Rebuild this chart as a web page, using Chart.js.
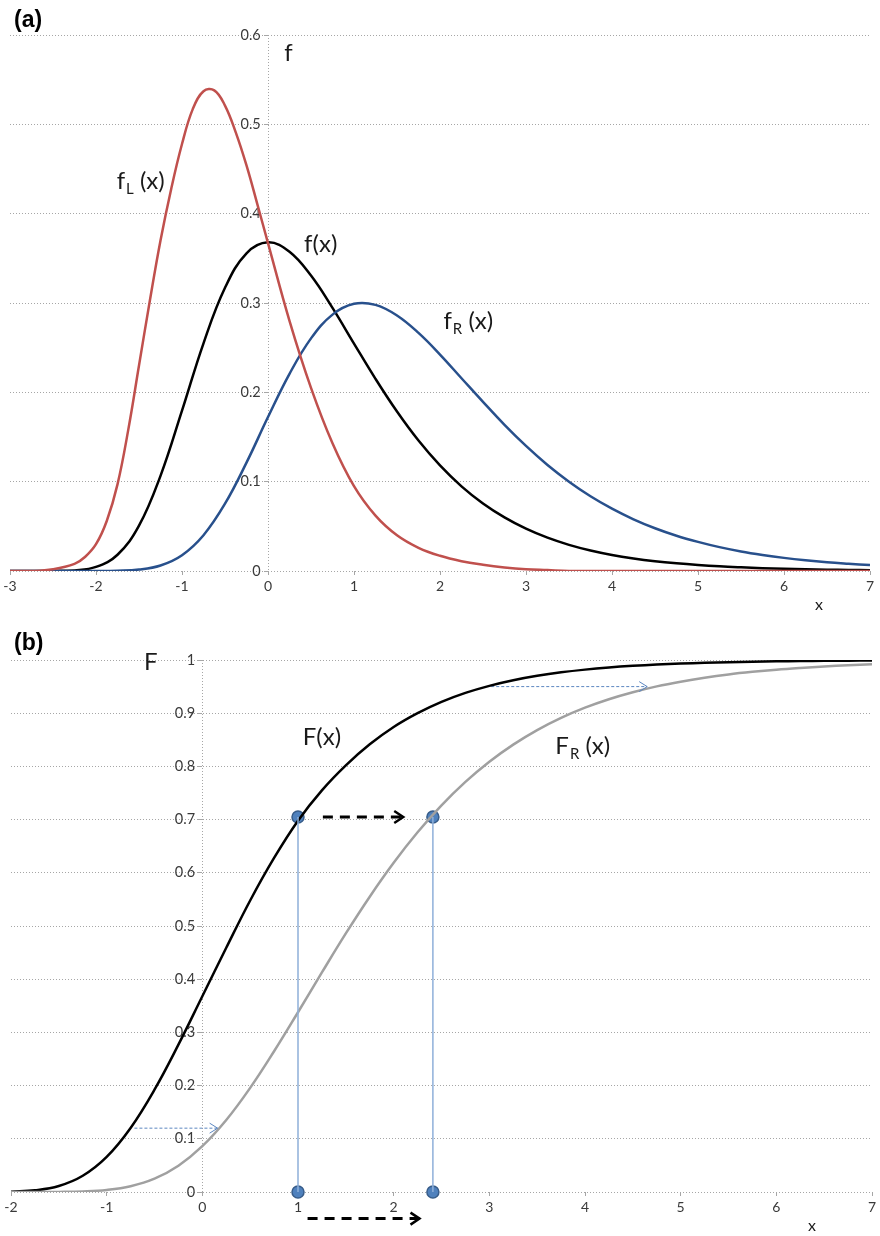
<!DOCTYPE html>
<html lang="en">
<head>
<meta charset="UTF-8">
<title>Gumbel densities f, fL, fR and distribution functions F, FR</title>
<script src="https://cdn.jsdelivr.net/npm/chart.js@4"></script>
<style>
    html, body { margin: 0; padding: 0; background: #fff; }
    canvas { position: absolute; left: 0; }
    #chartA { top: 0; }
    #chartB { top: 620px; }
</style>
</head>
<body>
<canvas id="chartA" width="880" height="620"></canvas>
<canvas id="chartB" width="880" height="616"></canvas>
<script>
// ---------- panel (a): densities ----------
const xA = [-3, -2.75, -2.5, -2.25, -2, -1.75, -1.5, -1.25, -1, -0.75, -0.5, -0.25,
            0, 0.25, 0.5, 0.75, 1, 1.25, 1.5, 1.75, 2, 2.25, 2.5, 2.75, 3, 3.25, 3.5,
            3.75, 4, 4.25, 4.5, 4.75, 5, 5.25, 5.5, 5.75, 6, 6.25, 6.5, 6.75, 7];
const fMid = [0, 0, 0.0001, 0.0007, 0.0046, 0.0182, 0.0507, 0.1065, 0.1794, 0.2549, 0.3170,
              0.3556, 0.3679, 0.3574, 0.3307, 0.2945, 0.2546, 0.2151, 0.1785, 0.1460, 0.1182,
              0.0948, 0.0756, 0.0600, 0.0474, 0.0373, 0.0293, 0.0230, 0.0180, 0.0141, 0.0110,
              0.0086, 0.0067, 0.0052, 0.0041, 0.0032, 0.0025, 0.0019, 0.0015, 0.0012, 0.0009];
const fRight = [0, 0, 0, 0, 0, 0.0003, 0.0016, 0.0062, 0.0177, 0.0401, 0.0753, 0.1213, 0.1723,
                0.2207, 0.2604, 0.2870, 0.2991, 0.2979, 0.2860, 0.2665, 0.2423, 0.2158, 0.1893,
                0.1636, 0.1400, 0.1187, 0.1000, 0.0837, 0.0698, 0.0579, 0.0479, 0.0395, 0.0326,
                0.0267, 0.0219, 0.0180, 0.0147, 0.0120, 0.0098, 0.0081, 0.0066];
// the narrow left curve is read more densely around its peak
const xL = [-3, -2.75, -2.5, -2.25, -2.125, -2, -1.875, -1.75, -1.625, -1.5, -1.375, -1.25,
            -1.125, -1, -0.875, -0.75, -0.625, -0.5, -0.375, -0.25, -0.125, 0, 0.25, 0.5,
            0.75, 1, 1.25, 1.5, 1.75, 2, 2.25, 2.5, 2.75, 3, 3.25, 3.5, 4, 5, 6, 7];
const fLeft = [0, 0, 0.002, 0.008, 0.016, 0.030, 0.056, 0.097, 0.158, 0.230, 0.302, 0.370,
               0.428, 0.478, 0.517, 0.537, 0.538, 0.521, 0.491, 0.454, 0.411, 0.367, 0.280,
               0.205, 0.143, 0.095, 0.062, 0.040, 0.026, 0.017, 0.011, 0.007, 0.004, 0.002,
               0.001, 0, 0, 0, 0, 0];

// ---------- panel (b): distribution functions ----------
const xB = [-2, -1.75, -1.5, -1.25, -1, -0.75, -0.5, -0.25, 0, 0.25, 0.5, 0.75, 1, 1.25, 1.5,
            1.75, 2, 2.25, 2.5, 2.75, 3, 3.25, 3.5, 3.75, 4, 4.25, 4.5, 4.75, 5, 5.25, 5.5,
            5.75, 6, 6.25, 6.5, 6.75, 7];
const FMid = [0.0006, 0.0032, 0.0113, 0.0305, 0.0660, 0.1204, 0.1923, 0.2769, 0.3679, 0.4590,
              0.5480, 0.6280, 0.6980, 0.7550, 0.8020, 0.8415, 0.8740, 0.9000, 0.9212, 0.9381,
              0.9514, 0.9619, 0.9702, 0.9768, 0.9819, 0.9859, 0.9890, 0.9914, 0.9933, 0.9948,
              0.9959, 0.9968, 0.9975, 0.9981, 0.9985, 0.9988, 0.9991];
const FRight = [0, 0, 0.0002, 0.0011, 0.0039, 0.0109, 0.0250, 0.0494, 0.0861, 0.1353, 0.1957,
                0.2645, 0.3379, 0.4127, 0.4860, 0.5551, 0.6188, 0.6761, 0.7267, 0.7708, 0.8088,
                0.8410, 0.8683, 0.8912, 0.9104, 0.9263, 0.9394, 0.9504, 0.9593, 0.9667, 0.9728,
                0.9777, 0.9818, 0.9851, 0.9879, 0.9901, 0.9919];

// points where F(x) = FR(x') and their feet on the axis
const markX = [1, 1, 2.41, 2.41];
const markY = [0.705, 0, 0.705, 0];
// shift arrows (start, end)
const bigArrowX = [1.26, 2.1];
const bigArrowY = [0.705, 0.705];
const footArrowX = [1.1, 2.27];
const footArrowY = [-0.05, -0.05];
const smallArrowTopX = [3.02, 4.65];
const smallArrowTopY = [0.95, 0.95];
const smallArrowLowX = [-0.71, 0.16];
const smallArrowLowY = [0.12, 0.12];

const labelsA = [
    { main: 'f', sub: 'L', rest: ' (x)', x: -1.76, y: 0.428 },
    { main: 'f(x)', x: 0.42, y: 0.357 },
    { main: 'f', sub: 'R', rest: ' (x)', x: 2.04, y: 0.271 },
    { main: 'f', x: 0.19, y: 0.571 },
    { main: 'x', x: 6.36, y: -0.044, size: 16 }
];
const labelsB = [
    { main: 'F(x)', x: 1.05, y: 0.840 },
    { main: 'F', sub: 'R', rest: ' (x)', x: 3.69, y: 0.823 },
    { main: 'F', x: -0.61, y: 0.981 },
    { main: 'x', x: 6.33, y: -0.074, size: 16 }
];

const FONT = 'Lato, "Open Sans", sans-serif';
const GRID = '#a6a6a6';

function pts(xs, ys) {
    return xs.map((x, i) => ({ x: x, y: ys[i] }));
}

function curve(xs, ys, color) {
    return {
        data: pts(xs, ys),
        borderColor: color,
        borderWidth: 2.5,
        pointRadius: 0,
        tension: 0.4,
        fill: false
    };
}

// text labels and arrow heads
const overlay = {
    id: 'overlay',
    afterDatasetsDraw(chart, args, opts) {
        const ctx = chart.ctx;
        const sx = chart.scales.x, sy = chart.scales.y;
        ctx.save();

        chart.data.datasets.forEach((ds, i) => {
            if (!ds.arrowHead) return;
            const el = chart.getDatasetMeta(i).data;
            const a = el[el.length - 2], b = el[el.length - 1];
            const ang = Math.atan2(b.y - a.y, b.x - a.x);
            const len = ds.arrowHead[0], half = ds.arrowHead[1];
            const c = Math.cos(ang), s = Math.sin(ang);
            ctx.setLineDash([]);
            ctx.strokeStyle = ds.borderColor;
            ctx.lineWidth = ds.arrowWidth || ds.borderWidth;
            ctx.lineJoin = 'miter';
            ctx.beginPath();
            ctx.moveTo(b.x - len * c + half * s, b.y - len * s - half * c);
            ctx.lineTo(b.x, b.y);
            ctx.lineTo(b.x - len * c - half * s, b.y - len * s + half * c);
            ctx.stroke();
        });

        ctx.fillStyle = '#1a1a1a';
        ctx.textAlign = 'left';
        ctx.textBaseline = 'alphabetic';
        opts.labels.forEach(lab => {
            const size = lab.size || 24;
            let px = sx.getPixelForValue(lab.x);
            const py = sy.getPixelForValue(lab.y);
            ctx.font = size + 'px ' + FONT;
            ctx.fillText(lab.main, px, py);
            px += ctx.measureText(lab.main).width;
            if (lab.sub) {
                ctx.font = Math.round(size * 0.62) + 'px ' + FONT;
                ctx.fillText(lab.sub, px + 1, py + 5);
                px += ctx.measureText(lab.sub).width + 1;
                ctx.font = size + 'px ' + FONT;
                ctx.fillText(lab.rest, px, py);
            }
        });

        ctx.font = 'bold 23px "Liberation Sans", Arial, sans-serif';
        ctx.fillStyle = '#000';
        ctx.fillText(opts.panel, 14, opts.panelY);
        ctx.restore();
    }
};

function axes(xmin, xmax, ymax) {
    return {
        x: {
            type: 'linear',
            position: { y: 0 },
            min: xmin,
            max: xmax,
            ticks: { stepSize: 1, autoSkip: false, maxRotation: 0, padding: 3,
                     color: '#3a3a3a', font: { family: FONT, size: 14 } },
            grid: {
                color: c => (c.tick && c.tick.value === 0) ? GRID : 'rgba(0,0,0,0)',
                tickColor: GRID, tickLength: 4, lineWidth: 1
            },
            border: { display: false, dash: [1, 2] }
        },
        y: {
            type: 'linear',
            position: { x: 0 },
            min: 0,
            max: ymax,
            ticks: {
                stepSize: 0.1, color: '#3a3a3a', font: { family: FONT, size: 14.5 },
                // keep the label clear of the axis line
                callback: v => String(Math.round(v * 10) / 10) + '\u2002'
            },
            grid: { color: GRID, tickColor: GRID, tickLength: 4, lineWidth: 1 },
            border: { display: false, dash: [1, 2] }
        }
    };
}

Chart.defaults.animation = false;

new Chart(document.getElementById('chartA'), {
    type: 'line',
    data: {
        datasets: [
            curve(xL, fLeft, '#c0504d'),
            curve(xA, fRight, '#28508c'),
            curve(xA, fMid, '#000000')
        ]
    },
    options: {
        responsive: false,
        devicePixelRatio: 1,
        layout: { padding: { left: 10, right: 10, top: 35, bottom: 49 } },
        scales: axes(-3, 7, 0.6),
        plugins: {
            legend: { display: false },
            tooltip: { enabled: false },
            overlay: { labels: labelsA, panel: '(a)', panelY: 27 }
        }
    },
    plugins: [overlay]
});

new Chart(document.getElementById('chartB'), {
    type: 'line',
    data: {
        datasets: [
            { data: pts([markX[0], markX[1]], [markY[0], markY[1]]), borderColor: '#8fb0d9',
              borderWidth: 1.5, pointRadius: 0 },
            { data: pts([markX[2], markX[3]], [markY[2], markY[3]]), borderColor: '#8fb0d9',
              borderWidth: 1.5, pointRadius: 0 },
            curve(xB, FRight, '#a0a0a0'),
            curve(xB, FMid, '#000000'),
            { data: pts(smallArrowTopX, smallArrowTopY), borderColor: '#5b86c0', borderWidth: 1,
              borderDash: [3, 2], pointRadius: 0, arrowHead: [8, 5] },
            { data: pts(smallArrowLowX, smallArrowLowY), borderColor: '#5b86c0', borderWidth: 1,
              borderDash: [3, 2], pointRadius: 0, arrowHead: [8, 5] },
            { data: pts(bigArrowX, bigArrowY), borderColor: '#000000', borderWidth: 3,
              borderDash: [10, 7], pointRadius: 0, arrowHead: [9, 6], arrowWidth: 2.5 },
            { data: pts(footArrowX, footArrowY), borderColor: '#000000', borderWidth: 3,
              borderDash: [10, 7], pointRadius: 0, arrowHead: [9, 6], arrowWidth: 2.5, clip: false },
            { data: pts(markX, markY), showLine: false, pointRadius: 6,
              pointBackgroundColor: '#4f81bd', pointBorderColor: '#385d8a', pointBorderWidth: 1.5,
              clip: false }
        ]
    },
    options: {
        responsive: false,
        devicePixelRatio: 1,
        layout: { padding: { left: 11, right: 8, top: 40, bottom: 44 } },
        scales: axes(-2, 7, 1),
        plugins: {
            legend: { display: false },
            tooltip: { enabled: false },
            overlay: { labels: labelsB, panel: '(b)', panelY: 30 }
        }
    },
    plugins: [overlay]
});
</script>
</body>
</html>
